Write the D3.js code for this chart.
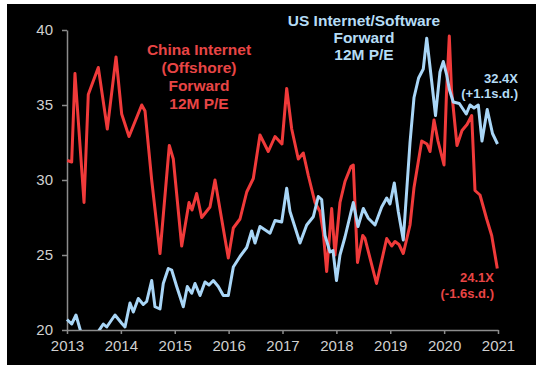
<!DOCTYPE html>
<html lang="en">
<head>
  <meta charset="UTF-8">
  <title>China vs US Internet Forward P/E</title>
  <script src="https://d3js.org/d3.v7.min.js"></script>
  <style>
    body { margin: 0; background: #fff; }
    svg { display: block; }
  </style>
</head>
<body>
<script>
  // years ticks
  const years = [2013, 2014, 2015, 2016, 2017, 2018, 2019, 2020, 2021];
  const peTicks = [20, 25, 30, 35, 40];

  // China Internet (Offshore) forward 12M P/E
  const chinaDates = [2013.006, 2013.087, 2013.148, 2013.316, 2013.395, 2013.581, 2013.748, 2013.910, 2014.015, 2014.151,
    2014.387, 2014.448, 2014.572, 2014.726, 2014.899, 2014.973, 2015.129, 2015.265, 2015.320, 2015.407,
    2015.500, 2015.654, 2015.747, 2015.994, 2016.087, 2016.211, 2016.336, 2016.458, 2016.582, 2016.736,
    2016.861, 2016.990, 2017.078, 2017.171, 2017.293, 2017.386, 2017.479, 2017.603, 2017.696, 2017.757,
    2017.820, 2017.913, 2017.974, 2018.067, 2018.160, 2018.271, 2018.314, 2018.392, 2018.489, 2018.531,
    2018.745, 2018.934, 2019.027, 2019.088, 2019.162, 2019.242, 2019.367, 2019.441, 2019.584, 2019.682,
    2019.738, 2019.812, 2019.886, 2019.998, 2020.044, 2020.096, 2020.137, 2020.239, 2020.332, 2020.425,
    2020.512, 2020.573, 2020.666, 2020.790, 2020.883, 2020.987];
  const chinaPE = [31.3, 31.2, 37.1, 28.5, 35.7, 37.5, 33.4, 38.2, 34.4, 32.9,
    35.0, 34.6, 30.0, 25.1, 32.3, 31.4, 25.6, 28.5, 28.0, 29.1,
    27.5, 28.2, 30.0, 24.8, 26.8, 27.4, 29.2, 30.1, 33.0, 31.9,
    32.9, 32.4, 36.1, 33.4, 31.4, 31.8, 30.3, 28.5, 27.9, 26.5,
    23.9, 28.1, 25.0, 28.5, 29.9, 30.9, 31.0, 24.5, 26.3, 26.1,
    23.1, 26.1, 25.6, 25.9, 25.7, 25.1, 27.0, 29.5, 32.6, 32.4,
    31.9, 34.0, 32.6, 31.0, 35.8, 39.6, 36.0, 32.3, 33.3, 33.7,
    34.3, 29.3, 29.0, 27.4, 26.3, 24.1];

  // US Internet/Software forward 12M P/E
  const usDates = [2013.000, 2013.087, 2013.167, 2013.278, 2013.427, 2013.581, 2013.674, 2013.737, 2013.891, 2014.015,
    2014.077, 2014.169, 2014.231, 2014.323, 2014.416, 2014.479, 2014.572, 2014.633, 2014.726, 2014.787,
    2014.880, 2014.943, 2015.036, 2015.159, 2015.233, 2015.315, 2015.376, 2015.469, 2015.561, 2015.636,
    2015.716, 2015.808, 2015.901, 2015.994, 2016.087, 2016.211, 2016.336, 2016.428, 2016.490, 2016.582,
    2016.707, 2016.768, 2016.861, 2016.985, 2017.078, 2017.139, 2017.325, 2017.449, 2017.572, 2017.664,
    2017.727, 2017.789, 2017.882, 2017.937, 2018.002, 2018.067, 2018.160, 2018.314, 2018.401, 2018.500,
    2018.593, 2018.717, 2018.841, 2018.934, 2018.995, 2019.075, 2019.149, 2019.242, 2019.367, 2019.441,
    2019.526, 2019.613, 2019.677, 2019.770, 2019.840, 2019.923, 2019.985, 2020.048, 2020.100, 2020.170,
    2020.282, 2020.411, 2020.480, 2020.554, 2020.634, 2020.703, 2020.800, 2020.898, 2020.991];
  const usPE = [20.7, 20.4, 21.0, 19.6, 19.3, 19.9, 20.4, 20.2, 21.0, 20.45,
    20.2, 21.8, 21.2, 22.1, 21.7, 21.9, 23.3, 21.55, 21.4, 23.1,
    24.1, 24.0, 22.9, 21.55, 22.9, 22.45, 23.1, 22.3, 23.2, 23.0,
    23.3, 22.9, 22.3, 22.3, 24.2, 24.9, 25.5, 26.6, 25.8, 26.9,
    26.6, 26.45, 27.3, 27.2, 29.45, 27.9, 25.8, 27.0, 27.55, 28.9,
    28.7, 26.3, 25.2, 25.3, 23.3, 25.0, 26.2, 28.5, 26.9, 28.1,
    27.45, 27.0, 28.2, 28.8, 28.4, 29.8, 27.9, 26.0, 32.5, 35.5,
    36.8, 37.4, 39.45, 36.55, 34.3, 37.2, 37.9, 37.0, 36.0, 35.2,
    35.1, 34.4, 35.0, 34.8, 35.0, 32.6, 34.7, 33.1, 32.4];

  const W = 536, H = 367;

  const svg = d3.select("body").append("svg")
    .attr("width", W)
    .attr("height", H);

  // black panel with a thin white frame
  svg.append("rect")
    .attr("x", 7).attr("y", 4)
    .attr("width", W - 7).attr("height", H - 6)
    .attr("fill", "#000");

  const x = d3.scaleLinear().domain([2013, 2021]).range([67, 498]);
  const y = d3.scaleLinear().domain([20, 40]).range([330, 30]);

  svg.append("clipPath").attr("id", "plot")
    .append("rect")
    .attr("x", 60).attr("y", 0)
    .attr("width", 470).attr("height", 330);

  const axisColor = "#8c8c8c";
  const textColor = "#d0d0d0";

  // y axis
  const yAxis = svg.append("g")
    .attr("transform", "translate(67,0)")
    .call(d3.axisLeft(y).tickValues(peTicks).tickSize(5).tickSizeOuter(0).tickPadding(9));

  // x axis
  const xAxis = svg.append("g")
    .attr("transform", "translate(0,330)")
    .call(d3.axisBottom(x).tickValues(years).tickFormat(d3.format("d")).tickSize(4).tickSizeOuter(0).tickPadding(6));

  [yAxis, xAxis].forEach(g => {
    g.select(".domain").attr("stroke", axisColor).attr("stroke-width", 1.5);
    g.selectAll(".tick line").attr("stroke", axisColor).attr("stroke-width", 1.5);
    g.selectAll(".tick text")
      .attr("fill", textColor)
      .style("font-family", "'Liberation Sans', Arial, sans-serif")
      .style("font-size", "15px");
  });

  const line = d3.line()
    .x(d => x(d[0]))
    .y(d => y(d[1]))
    .curve(d3.curveLinear);

  const chinaData = chinaDates.map((d, i) => [d, chinaPE[i]]);
  const usData = usDates.map((d, i) => [d, usPE[i]]);

  const red = "#f03a3a";
  const blue = "#a9d6f7";

  const plot = svg.append("g").attr("clip-path", "url(#plot)");

  plot.append("path")
    .datum(chinaData)
    .attr("d", line)
    .attr("fill", "none")
    .attr("stroke", red)
    .attr("stroke-width", 3)
    .attr("stroke-linejoin", "round");

  plot.append("path")
    .datum(usData)
    .attr("d", line)
    .attr("fill", "none")
    .attr("stroke", blue)
    .attr("stroke-width", 3)
    .attr("stroke-linejoin", "round");

  // labels
  function label(lines, cx, cy, step, color, size, anchor) {
    const t = svg.append("text")
      .attr("text-anchor", anchor)
      .attr("fill", color)
      .style("font-family", "'Liberation Sans', Arial, sans-serif")
      .style("font-weight", "bold")
      .style("font-size", size + "px");
    lines.forEach((s, i) => {
      t.append("tspan")
        .attr("x", cx)
        .attr("y", cy + i * step)
        .attr("dy", "0.35em")
        .text(s);
    });
  }

  label(["China Internet", "(Offshore)", "Forward", "12M P/E"], 199, 50, 18, "#e84545", 15.5, "middle");
  label(["US Internet/Software", "Forward", "12M P/E"], 364, 21, 17, "#b5dcf5", 15.5, "middle");
  label(["32.4X", "(+1.1s.d.)"], 518, 78, 15.5, "#b5dcf5", 13, "end");
  label(["24.1X", "(-1.6s.d.)"], 494, 277, 16, "#e84545", 13, "end");
</script>
</body>
</html>
